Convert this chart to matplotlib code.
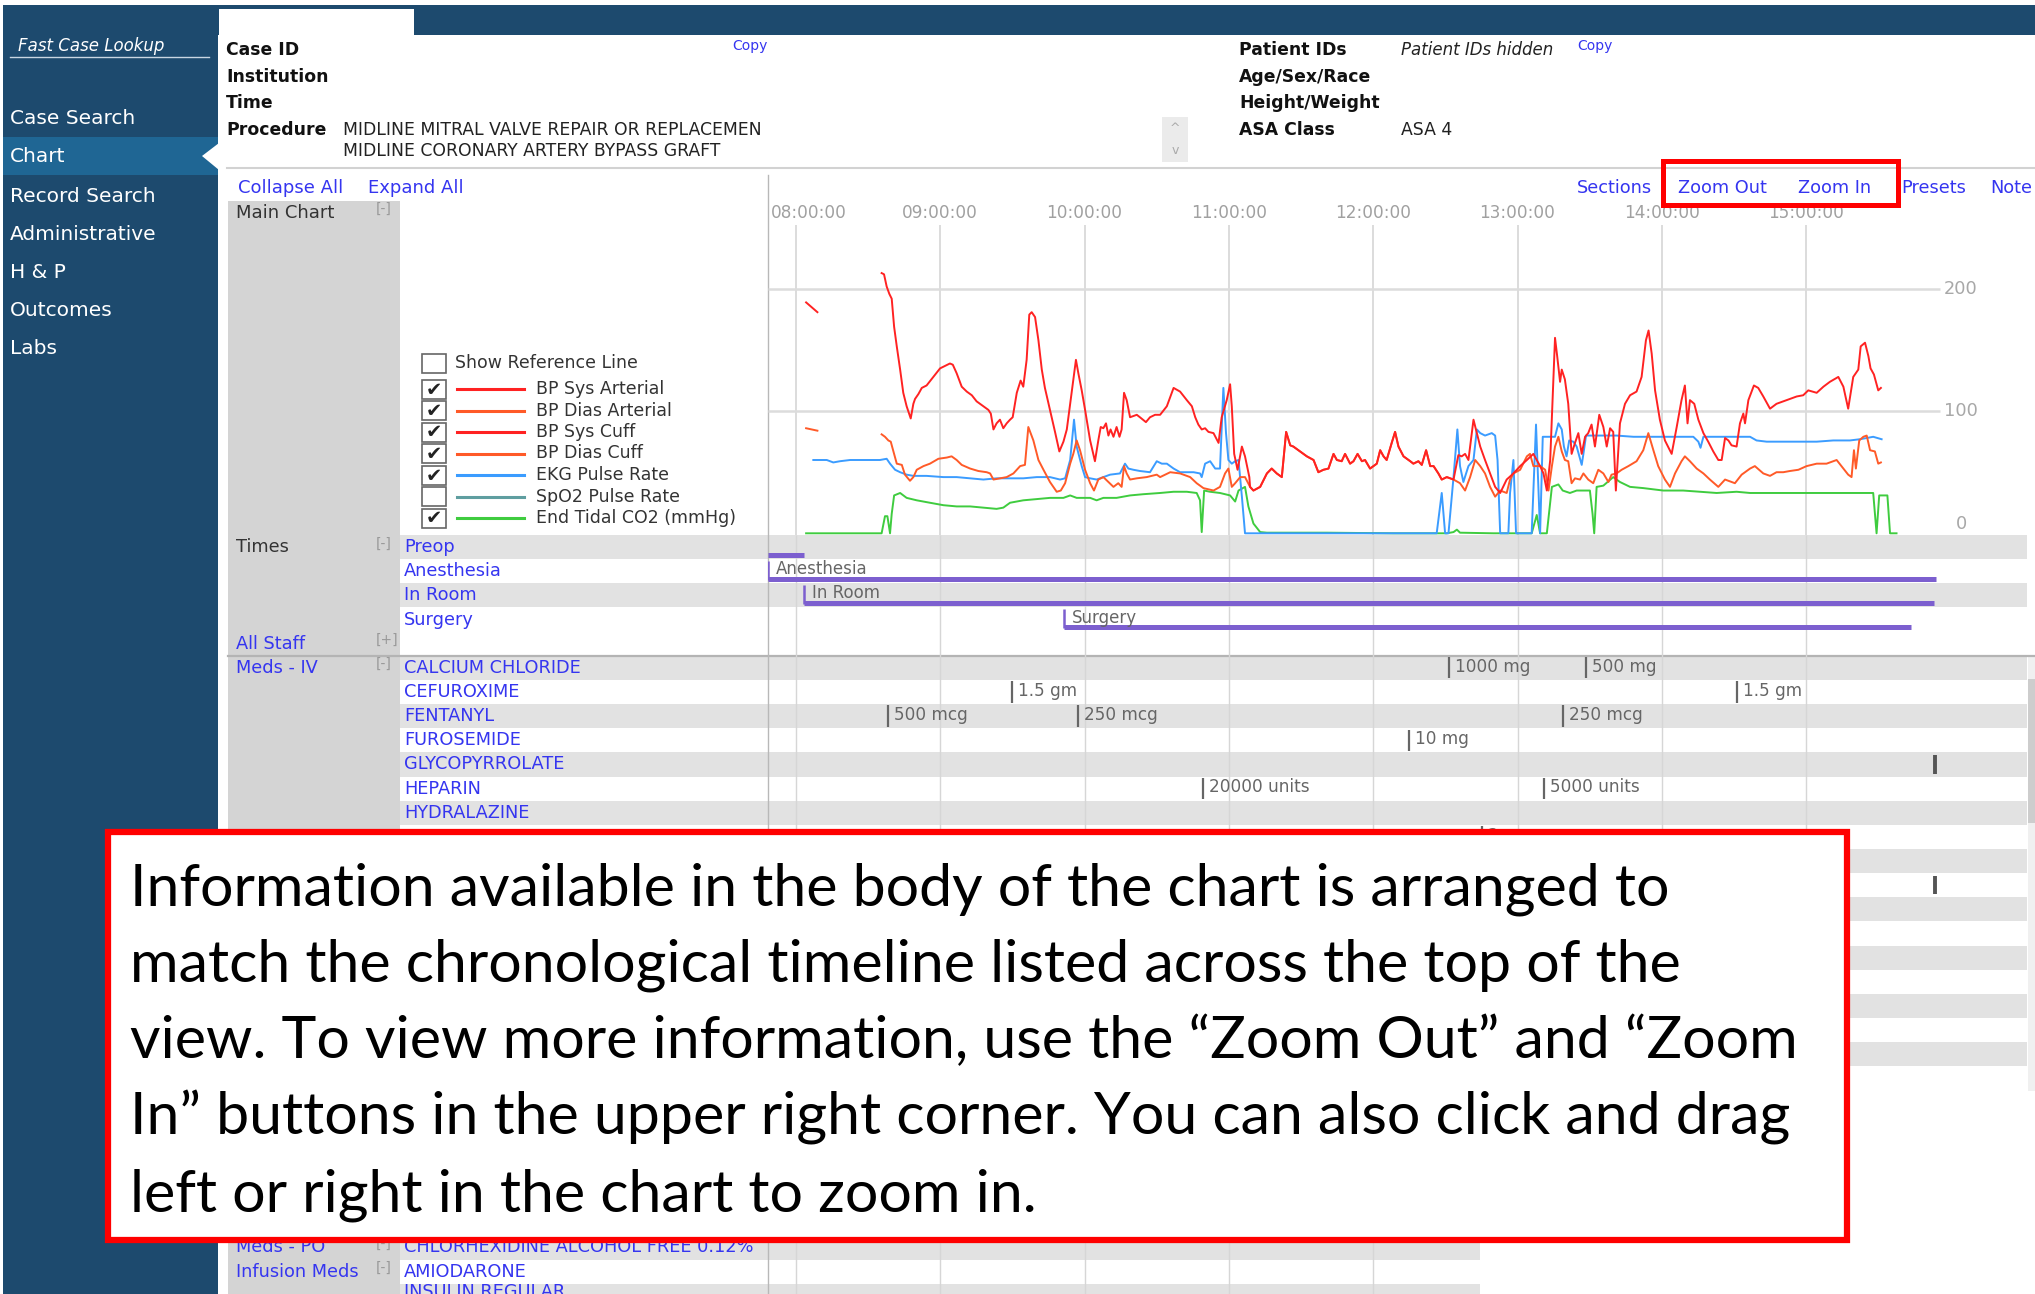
import numpy as np
import matplotlib
matplotlib.use("Agg")
import matplotlib.pyplot as plt
from matplotlib.patches import Rectangle, Polygon

nan = np.nan

# ---------------- vitals (minutes after 08:00, value) ----------------
SYS_PRE_T = [4.2, 8.9, nan, 35.6, 36.6, 37.7, 38.8, 39.8, 40.8, 41.9, 43.3, 44.6, 46.0, 47.7, 48.8, 49.5,
             50.9, 52.3, 54.3, 57.1, 59.9, 62.0, 64.0, 65.2, 66.8, 68.9, 71.0, 73.1, 75.1, 77.9, 80.0, 81.0,
             82.1, 83.4, 84.8, 86.2, 87.6, 89.0, 90.1, 91.8, 93.4, 94.5, 95.9, 97.0, 98.0, 99.4, 100.8,
             102.2, 103.5, 105.6, 107.7, 109.5, 111.2, 112.6, 114.0, 115.3, 116.4, 117.4, 118.8, 120.2,
             122.3, 124.3, 125.7, 126.7, 127.8, 128.9, 129.9, 130.8, 132.0, 133.3, 134.5, 135.4, 136.4,
             137.5, 138.9, 141.7, 143.0, 145.5, 147.2, 149.3, 151.4, 154.2, 157.0, 159.7, 162.5, 164.6,
             166.0, 167.3, 168.7, 170.1, 171.5, 173.6, 175.7, 177.0, 179.1, 180.5, 181.2, 182.2, 183.6,
             185.4, 186.7, 188.5]
SYS_PRE_V = [189, 181, nan, 213, 212, 202, 196, 192, 169, 153, 134, 115, 104, 94, 106, 110,
             114, 119, 121, 128, 135, 137, 139, 138, 131, 120, 116, 113, 108, 104, 101, 98,
             85, 90, 93, 86, 90, 93, 95, 115, 125, 120, 142, 179, 181, 177, 158,
             134, 119, 101, 83, 67, 75, 85, 106, 125, 142, 131, 117, 101,
             76, 59, 76, 87, 86, 90, 80, 85, 79, 87, 79, 85, 115,
             109, 95, 97, 95, 91, 95, 97, 97, 104, 119, 116, 109, 104,
             95, 89, 85, 86, 83, 82, 74, 95, 109, 122, 104, 65, 52,
             71, 63, 46]

# bypass period: systolic and diastolic traces lie on top of each other
BYPASS_T = [188.8, 190.2, 193.0, 195.8, 197.8, 199.9, 202.0, 203.8, 205.5, 206.8, 209.6, 212.4, 215.2,
            217.2, 219.3, 221.4, 223.5, 224.9, 226.9, 228.3, 230.4, 231.8, 233.5, 235.3, 236.6, 238.7,
            241.5, 242.9, 244.3, 245.6, 247.7, 249.1, 250.5, 252.6, 255.4, 256.7, 258.8, 260.2, 262.0,
            263.7, 265.1, 267.1, 268.5, 270.6, 273.4]
BYPASS_V = [38, 35, 38, 49, 53, 49, 46, 83, 72, 71, 67, 63, 60,
            50, 52, 53, 65, 60, 59, 65, 57, 59, 65, 59, 60, 53,
            57, 68, 63, 60, 74, 83, 71, 63, 59, 57, 59, 56, 68,
            55, 55, 49, 44, 46, 44]

SYS_POST_T = [275.4, 276.8, 278.2, 279.6, 281.7, 283.1, 284.5, 286.5, 288.6, 290.7, 292.8, 295.5, 298.3,
              301.1, 303.9, 306.6, 309.4, 310.8, 312.2, 313.6, 315.6, 316.5, 317.7, 318.4, 319.7, 321.1,
              322.5, 323.9, 325.3, 326.7, 328.1, 329.4, 330.8, 332.2, 334.0, 335.7, 337.1, 338.5, 339.8,
              340.9, 342.6, 344.7, 346.8, 349.5, 351.6, 353.4, 354.5, 355.8, 357.2, 359.2, 361.3, 364.1,
              366.2, 368.2, 369.6, 370.7, 371.7, 373.5, 375.2, 377.3, 379.3, 381.4, 383.5, 384.9, 386.3,
              387.7, 389.0, 391.1, 392.5, 393.9, 394.6, 396.0, 398.3, 400.1, 402.2, 405.0, 407.7, 410.5,
              413.3, 416.1, 418.8, 420.9, 424.4, 427.2, 429.9, 433.4, 435.5, 437.5, 439.6, 441.7, 442.7,
              444.5, 445.9, 446.8, 448.2, 450.0, 451.1]
SYS_POST_V = [64, 63, 65, 60, 93, 82, 71, 60, 49, 38, 33, 44, 49,
              55, 60, 65, 55, 49, 35, 60, 160, 145, 124, 134, 126, 106,
              65, 74, 82, 65, 79, 82, 89, 71, 97, 87, 71, 86, 83,
              35, 90, 106, 113, 116, 128, 158, 166, 147, 117, 93, 76, 65,
              87, 109, 121, 90, 109, 106, 93, 82, 75, 67, 60, 60, 78,
              76, 72, 71, 90, 98, 90, 109, 121, 119, 112, 102, 106, 108,
              110, 112, 113, 117, 115, 120, 124, 128, 120, 102, 128, 134, 153,
              156, 145, 135, 130, 117, 119]

DIAS_PRE_T = [4.2, 8.9, nan, 35.6, 37.0, 38.4, 39.4, 40.8, 41.9, 44.0, 45.3, 47.4, 48.8, 50.2, 53.0, 55.7,
              59.2, 62.7, 64.7, 66.8, 68.9, 72.4, 75.8, 79.3, 80.7, 82.1, 84.8, 87.6, 90.4, 93.2, 95.2,
              96.6, 98.7, 100.8, 102.9, 105.6, 108.4, 110.1, 111.9, 114.0, 115.3, 116.7, 118.1, 120.2,
              122.3, 123.9, 125.7, 127.8, 129.9, 132.0, 134.0, 135.4, 136.4, 137.5, 138.9, 141.7, 145.8,
              150.0, 151.4, 155.6, 159.7, 163.9, 166.6, 169.4, 173.6, 176.3, 178.4, 179.8, 181.2, 182.6,
              184.7, 186.7]
DIAS_PRE_V = [86, 84, nan, 81, 79, 76, 75, 65, 57, 56, 48, 43, 46, 52, 55, 57,
              61, 62, 63, 60, 56, 53, 51, 50, 49, 44, 45, 46, 49, 55, 56,
              87, 76, 60, 52, 42, 34, 35, 41, 57, 65, 76, 68, 52,
              41, 35, 44, 46, 42, 38, 41, 38, 55, 49, 44, 45, 46,
              48, 46, 50, 49, 46, 41, 37, 35, 38, 49, 53, 38, 41,
              46, 46]

DIAS_POST_T = [276.1, 278.2, 280.3, 282.4, 284.5, 286.5, 288.6, 290.7, 292.8, 295.5, 296.9, 298.3, 301.1,
               303.9, 305.2, 306.6, 309.4, 311.5, 312.9, 314.3, 315.6, 317.0, 318.4, 319.7, 321.1, 322.5,
               323.9, 326.0, 327.4, 329.4, 331.5, 333.6, 335.7, 337.8, 339.1, 341.2, 343.3, 346.1, 349.5,
               352.3, 354.4, 356.5, 358.5, 361.3, 363.4, 365.5, 368.2, 369.6, 371.7, 374.5, 377.3, 380.0,
               383.5, 386.3, 389.0, 390.4, 393.2, 396.7, 398.7, 402.2, 405.0, 407.7, 410.5, 413.3, 416.8,
               420.2, 424.4, 428.5, 432.7, 435.5, 437.5, 438.9, 439.9, 440.7, 442.1, 443.8, 445.2, 446.6,
               448.6, 450.0, 451.1]
DIAS_POST_V = [41, 35, 46, 60, 55, 49, 38, 30, 35, 33, 44, 49, 52,
               63, 65, 55, 55, 52, 35, 55, 71, 79, 67, 60, 59, 41,
               45, 44, 49, 44, 41, 52, 49, 42, 48, 49, 52, 55, 59,
               68, 82, 68, 55, 44, 38, 49, 59, 63, 59, 53, 49, 44,
               38, 44, 42, 41, 48, 53, 55, 49, 47, 50, 50, 51, 52,
               55, 57, 57, 60, 53, 48, 46, 68, 53, 76, 79, 80, 68,
               67, 57, 58]

EKG_T = [7.2, 10.0, 12.8, 15.5, 18.3, 22.5, 26.6, 30.8, 34.9, 37.7, 39.1, 41.2, 43.3, 46.0, 48.8, 54.3,
         61.3, 66.8, 72.4, 77.9, 83.4, 89.0, 94.5, 100.1, 105.6, 109.8, 111.9, 114.0, 115.6, 116.7, 118.8,
         120.2, 122.3, 125.0, 127.8, 130.6, 134.7, 136.8, 138.2, 140.3, 143.0, 147.2, 150.0, 152.1, 154.2,
         157.0, 159.7, 162.5, 165.3, 168.0, 168.7, 170.1, 172.2, 174.3, 176.3, 177.7, 178.8, 179.8, 181.2,
         182.6, 184.0, 185.4, 186.7, 266.4, 268.5, 269.9, 271.3, 273.4, 275.0, 276.1, 277.5, 279.6, 281.7,
         283.1, 284.5, 286.5, 289.3, 290.7, 291.7, 292.8, 296.2, 296.9, 298.3, 299.4, 305.9, 307.7, 309.4,
         310.5, 315.6, 317.0, 318.4, 319.3, 320.4, 321.5, 323.2, 324.6, 326.7, 327.4, 328.5, 331.5, 341.2,
         348.2, 355.1, 368.9, 373.1, 375.2, 376.1, 377.3, 382.8, 396.7, 399.4, 403.6, 410.5, 424.4, 431.3,
         438.2, 442.4, 445.2, 447.9, 451.4]
EKG_V = [60, 60, 60, 58, 59, 60, 60, 60, 60, 61, 57, 52, 50, 48, 47, 47,
         46, 46, 45, 44, 45, 45, 45, 46, 46, 44, 45, 60, 93, 71, 55,
         46, 45, 44, 46, 48, 49, 57, 53, 52, 51, 50, 59, 57, 57,
         53, 50, 50, 50, 49, 46, 57, 59, 53, 53, 119, 82, 60, 57,
         59, 60, 30, 0, 0, 33, 0, 0, 46, 85, 55, 42, 55, 60,
         85, 82, 80, 82, 80, 60, 0, 0, 33, 60, 0, 0, 89, 0,
         79, 79, 90, 85, 71, 63, 76, 75, 71, 56, 65, 80, 80, 80,
         79, 79, 79, 79, 75, 70, 79, 79, 79, 76, 75, 75, 75, 76,
         76, 77, 78, 79, 77]

ETCO2_T = [4.2, 16.9, 35.6, 37.0, 38.0, 39.1, 39.8, 40.8, 43.3, 46.0, 50.2, 55.7, 61.3, 66.8, 72.4, 77.9,
           83.4, 86.2, 89.0, 94.5, 100.1, 105.6, 111.2, 114.0, 116.7, 122.3, 125.0, 127.8, 133.3, 138.9,
           144.4, 151.4, 157.0, 162.5, 166.6, 168.0, 168.7, 169.7, 172.2, 176.3, 180.5, 182.6, 184.0,
           186.7, 188.1, 190.2, 193.0, 195.8, 220.7, 248.4, 270.6, 273.4, 274.8, 276.1, 290.0, 305.9,
           308.0, 309.4, 312.2, 314.3, 317.0, 318.8, 321.8, 324.6, 327.4, 330.1, 331.2, 331.9, 332.9,
           335.7, 339.8, 342.6, 346.8, 352.3, 360.6, 368.9, 375.9, 382.8, 391.1, 396.7, 410.5, 424.4,
           438.2, 447.9, 449.3, 450.4, 453.8, 454.9, 457.6]
ETCO2_V = [0, 0, 0, 14, 14, 0, 16, 31, 33, 29, 27, 25, 23, 22, 22, 21,
           20, 21, 25, 27, 28, 29, 29, 31, 29, 29, 27, 29, 29, 31,
           32, 33, 34, 34, 33, 27, 1, 35, 34, 33, 31, 26, 35,
           38, 22, 8, 1, 0.5, 0.5, 0, 0, 1, 3, 0.5, 0, 0,
           15, 0, 0, 38, 40, 35, 33, 35, 35, 35, 16, 0, 38,
           39, 46, 42, 38, 37, 35, 35, 34, 33, 34, 33, 33, 33,
           33, 33, 0, 31, 31, 0, 0]

HOUR_T = [0, 60, 120, 180, 240, 300, 360, 420]
HOUR_LABELS = ["08:00:00", "09:00:00", "10:00:00", "11:00:00", "12:00:00", "13:00:00", "14:00:00", "15:00:00"]

LEGEND_LABELS = ["BP Sys Arterial", "BP Dias Arterial", "BP Sys Cuff", "BP Dias Cuff",
                 "EKG Pulse Rate", "SpO2 Pulse Rate", "End Tidal CO2 (mmHg)"]
LEGEND_CHECKED = [True, True, True, True, True, False, True]

# ---------------- case times and meds ----------------
PHASES = ["Preop", "Anesthesia", "In Room", "Surgery"]
PHASE_START = [-11.8, -11.8, 3.3, 111.4]
PHASE_END = [3.3, 474.0, 473.2, 463.6]

MEDS_IV = ["CALCIUM CHLORIDE", "CEFUROXIME", "FENTANYL", "FUROSEMIDE", "GLYCOPYRROLATE", "HEPARIN", "HYDRALAZINE"]
DOSE_MED = [0, 0, 1, 1, 2, 2, 2, 3, 4, 5, 5, 7, 9]
DOSE_T = [271.5, 328.5, 89.8, 391.3, 38.3, 117.3, 318.9, 254.9, 473.6, 169.2, 311.0, 285.2, 473.6]
DOSE_LABEL = ["1000 mg", "500 mg", "1.5 gm", "1.5 gm", "500 mcg", "250 mcg", "250 mcg", "10 mg", "",
              "20000 units", "5000 units", "2 mg", ""]

NOTE_LINES = ["Information available in the body of the chart is arranged to",
              "match the chronological timeline listed across the top of the",
              "view. To view more information, use the \u201cZoom Out\u201d and \u201cZoom",
              "In\u201d buttons in the upper right corner. You can also click and drag",
              "left or right in the chart to zoom in."]

# ---------------- layout ----------------
W, H = 2035, 1294
PX_PER_MIN = 144.3 / 60
X_0800 = 796
CHART_X0 = 768
ROW_TOP, ROW_H = 535, 24.15

NAVY = "#1d4a6e"
LINK = "#3535f0"
ROW_GRAY = "#e2e2e2"
COL_GRAY = "#d4d4d4"
PURPLE = "#7c5fcf"
RED, ORANGE, BLUE, TEAL, GREEN = "#ff2222", "#ff5a28", "#3b9cff", "#5f9ea0", "#3fcc3f"
LEGEND_COLORS = [RED, ORANGE, RED, ORANGE, BLUE, TEAL, GREEN]

plt.rcParams["font.family"] = ["DejaVu Sans"]

fig = plt.figure(figsize=(W / 100, H / 100), dpi=100)


def frac(x0, y0, x1, y1):
    return [x0 / W, 1 - y1 / H, (x1 - x0) / W, (y1 - y0) / H]


def box(ax, x0, y0, x1, y1, **kw):
    ax.add_patch(Rectangle((x0, y0), x1 - x0, y1 - y0, **kw))


bg = fig.add_axes([0, 0, 1, 1], zorder=0)
bg.set_xlim(0, W)
bg.set_ylim(H, 0)
bg.axis("off")

# sidebar + top band
box(bg, 3, 5, 218, H, color=NAVY, lw=0)
box(bg, 218, 5, W, 35, color=NAVY, lw=0)
box(bg, 219, 9, 414, 36, color="white", lw=0)
box(bg, 3, 137, 218, 175, color="#1f6694", lw=0)
bg.add_patch(Polygon([(202, 156), (219, 143), (219, 170)], closed=True, color="white", lw=0))
bg.text(18, 46, "Fast Case Lookup", color="white", fontsize=12, style="italic", va="center")
bg.plot([10, 209], [57, 57], color="#c9d6e2", lw=1)
for y, lab in zip([118, 157, 196, 234, 273, 311, 348],
                  ["Case Search", "Chart", "Record Search", "Administrative", "H & P", "Outcomes", "Labs"]):
    bg.text(10, y, lab, color="white", fontsize=14.5, va="center")

# header
for y, lab in zip([50, 77, 103, 130], ["Case ID", "Institution", "Time", "Procedure"]):
    bg.text(226, y, lab, fontsize=12.4, fontweight="bold", va="center", color="#111")
bg.text(343, 130, "MIDLINE MITRAL VALVE REPAIR OR REPLACEMEN", fontsize=12.4, va="center", color="#222")
bg.text(343, 151, "MIDLINE CORONARY ARTERY BYPASS GRAFT", fontsize=12.4, va="center", color="#222")
bg.text(732, 46, "Copy", fontsize=10, color=LINK, va="center")
box(bg, 1162, 117, 1188, 162, color="#ebebeb", lw=0)
bg.text(1175, 128, "^", fontsize=9, color="#aaa", ha="center", va="center")
bg.text(1175, 151, "v", fontsize=9, color="#aaa", ha="center", va="center")
for y, lab in zip([50, 77, 103, 130], ["Patient IDs", "Age/Sex/Race", "Height/Weight", "ASA Class"]):
    t = bg.text(1239, y, lab, fontsize=12.4, fontweight="bold", va="center", color="#111")
    t.set_clip_path(Rectangle((1230, 20), 142, 130, transform=bg.transData))
bg.text(1401, 50, "Patient IDs hidden", fontsize=12, style="italic", va="center", color="#222")
bg.text(1577, 46, "Copy", fontsize=10, color=LINK, va="center")
bg.text(1401, 130, "ASA 4", fontsize=12.4, va="center", color="#222")
bg.plot([227, W], [168, 168], color="#d2d2d2", lw=1.5)

bg.text(238, 188, "Collapse All", fontsize=13, color=LINK, va="center")
bg.text(368, 188, "Expand All", fontsize=13, color=LINK, va="center")
for x, lab in zip([1577, 1678, 1798, 1901, 1990], ["Sections", "Zoom Out", "Zoom In", "Presets", "Note"]):
    bg.text(x, 188, lab, fontsize=12.8, color=LINK, va="center")

# left label column and row shading
box(bg, 228, 201, 400, H, color=COL_GRAY, lw=0)
bg.text(236, 213, "Main Chart", fontsize=13, color="#333", va="center")
bg.text(376, 209, "[-]", fontsize=10, color="#999", va="center")


def row_y(i):
    return ROW_TOP + i * ROW_H


for i in [0, 2] + list(range(5, 23, 2)):
    box(bg, 400, row_y(i), 2027, row_y(i + 1), color=ROW_GRAY, lw=0)
for i in [29, 31]:
    box(bg, 400, row_y(i), 1480, row_y(i + 1), color=ROW_GRAY, lw=0)
box(bg, 2028, 655, W, 1091, color="#f0f0f0", lw=0)
box(bg, 2028, 679, W, 823, color="#cdcdcd", lw=0)

row_font = dict(fontsize=12.8, va="center")
bg.text(236, row_y(0.5), "Times", color="#333", **row_font)
bg.text(376, row_y(0.35), "[-]", fontsize=10, color="#999", va="center")
for i, lab in enumerate(PHASES):
    bg.text(404, row_y(i + 0.5), lab, color=LINK, **row_font)
bg.text(236, row_y(4.5), "All Staff", color=LINK, **row_font)
bg.text(376, row_y(4.35), "[+]", fontsize=10, color="#999", va="center")
bg.plot([228, W], [row_y(5), row_y(5)], color="#b4b4b4", lw=1.6)
bg.text(236, row_y(5.5), "Meds - IV", color=LINK, **row_font)
bg.text(376, row_y(5.35), "[-]", fontsize=10, color="#999", va="center")
for i, lab in enumerate(MEDS_IV):
    bg.text(404, row_y(5 + i + 0.5), lab, color=LINK, **row_font)
bg.text(236, row_y(29.5), "Meds - PO", color=LINK, **row_font)
bg.text(376, row_y(29.35), "[-]", fontsize=10, color="#999", va="center")
bg.text(404, row_y(29.5), "CHLORHEXIDINE ALCOHOL FREE 0.12%", color=LINK, **row_font)
bg.text(236, row_y(30.5), "Infusion Meds", color=LINK, **row_font)
bg.text(376, row_y(30.35), "[-]", fontsize=10, color="#999", va="center")
bg.text(404, row_y(30.5), "AMIODARONE", color=LINK, **row_font)
bg.text(404, row_y(31.35), "INSULIN REGULAR", color=LINK, **row_font)

# legend with check boxes
bg.add_patch(Rectangle((422, 354), 24, 19, fill=False, edgecolor="#666", lw=1.2))
bg.text(455, 363, "Show Reference Line", fontsize=12.5, color="#333", va="center")
for k, (lab, col, chk) in enumerate(zip(LEGEND_LABELS, LEGEND_COLORS, LEGEND_CHECKED)):
    y = 389 + k * 21.5
    bg.add_patch(Rectangle((422, y - 9.5), 24, 19, fill=False, edgecolor="#666", lw=1.2))
    if chk:
        bg.text(434, y + 1, "\u2714", fontsize=14, color="#222", ha="center", va="center")
    bg.plot([457, 524], [y, y], color=col, lw=2.2)
    bg.text(536, y, lab, fontsize=12.5, color="#333", va="center")

bg.plot([CHART_X0, CHART_X0], [175, H], color="#b8b8b8", lw=1)

# ---------------- vitals chart ----------------
T0 = (CHART_X0 - X_0800) / PX_PER_MIN
T1 = (W - X_0800) / PX_PER_MIN
ax = fig.add_axes(frac(CHART_X0, 225, W, ROW_TOP), zorder=1)
ax.set_facecolor("none")
ax.set_xlim(T0, T1)
ax.set_ylim((533.3 - ROW_TOP) / 1.2217, (533.3 - 225) / 1.2217)
for s in ax.spines.values():
    s.set_visible(False)
ax.set_xticks([])
ax.set_yticks([])
ax.vlines(HOUR_T, -5, 260, color="#d6d6d6", lw=1.2)
ax.hlines([100, 200], T0, 475.5, color="#dcdcdc", lw=1.8)
for i, (t, lab) in enumerate(zip(HOUR_T, HOUR_LABELS)):
    x, ha = (T0 + 1, "left") if i == 0 else (t, "center")
    ax.text(x, 1.039, lab, transform=ax.get_xaxis_transform(), ha=ha, va="center",
            fontsize=12.2, color="#a0a0a0")
for v, yv in zip(["200", "100", "0"], [200, 100, 8]):
    ax.text(0.9416, yv, v, transform=ax.get_yaxis_transform(), ha="center", va="center",
            fontsize=12.8, color="#a8a8a8")

sys_t = SYS_PRE_T + BYPASS_T + SYS_POST_T
sys_v = SYS_PRE_V + BYPASS_V + SYS_POST_V
dias_t = DIAS_PRE_T + BYPASS_T + DIAS_POST_T
dias_v = DIAS_PRE_V + BYPASS_V + DIAS_POST_V
ax.plot(ETCO2_T, ETCO2_V, color=GREEN, lw=1.4)
ax.plot(EKG_T, EKG_V, color=BLUE, lw=1.4)
ax.plot(dias_t, dias_v, color=ORANGE, lw=1.4)
ax.plot(sys_t, sys_v, color=RED, lw=1.4)

# ---------------- times / meds timeline ----------------
tl = fig.add_axes(frac(CHART_X0, ROW_TOP, W, H), zorder=1)
tl.set_facecolor("none")
tl.set_xlim(T0, T1)
n_rows = (H - ROW_TOP) / ROW_H
tl.set_ylim(n_rows, 0)
tl.axis("off")
tl.vlines(HOUR_T, 0, 23, color="#d6d6d6", lw=1)
tl.vlines([t for t in HOUR_T if t < 280], 29, n_rows, color="#d6d6d6", lw=1)

for i, (name, t0, t1) in enumerate(zip(PHASES, PHASE_START, PHASE_END)):
    tl.hlines(i + 0.83, t0, t1, color=PURPLE, lw=3.6)
    if i > 0:
        tl.vlines(t0, i + 0.08, i + 0.86, color=PURPLE, lw=1.8)
        tl.text(t0 + 3.5, i + 0.42, name, fontsize=12, color="#666", va="center")

for m, t, lab in zip(DOSE_MED, DOSE_T, DOSE_LABEL):
    r = 5 + m
    if lab:
        tl.vlines(t, r + 0.06, r + 0.94, color="#666", lw=1.6)
        tl.text(t + 2.4, r + 0.45, lab, fontsize=12.2, color="#666", va="center")
    else:
        tl.vlines(t, r + 0.12, r + 0.88, color="#555", lw=2.8)

# ---------------- callouts ----------------
fg = fig.add_axes([0, 0, 1, 1], zorder=10)
fg.set_facecolor("none")
fg.set_xlim(0, W)
fg.set_ylim(H, 0)
fg.axis("off")
fg.add_patch(Rectangle((1663, 161), 235, 44, fill=False, edgecolor="#ff0000", lw=3.6))
fg.add_patch(Rectangle((108, 832), 1739, 408, facecolor="white", edgecolor="#ff0000", lw=4.5))
for k, line in enumerate(NOTE_LINES):
    fg.text(130, 905 + k * 76.6, line, fontsize=42.6, family=["Lato", "DejaVu Sans"],
            va="baseline", color="black")

fig.savefig("out.png", dpi=100)
